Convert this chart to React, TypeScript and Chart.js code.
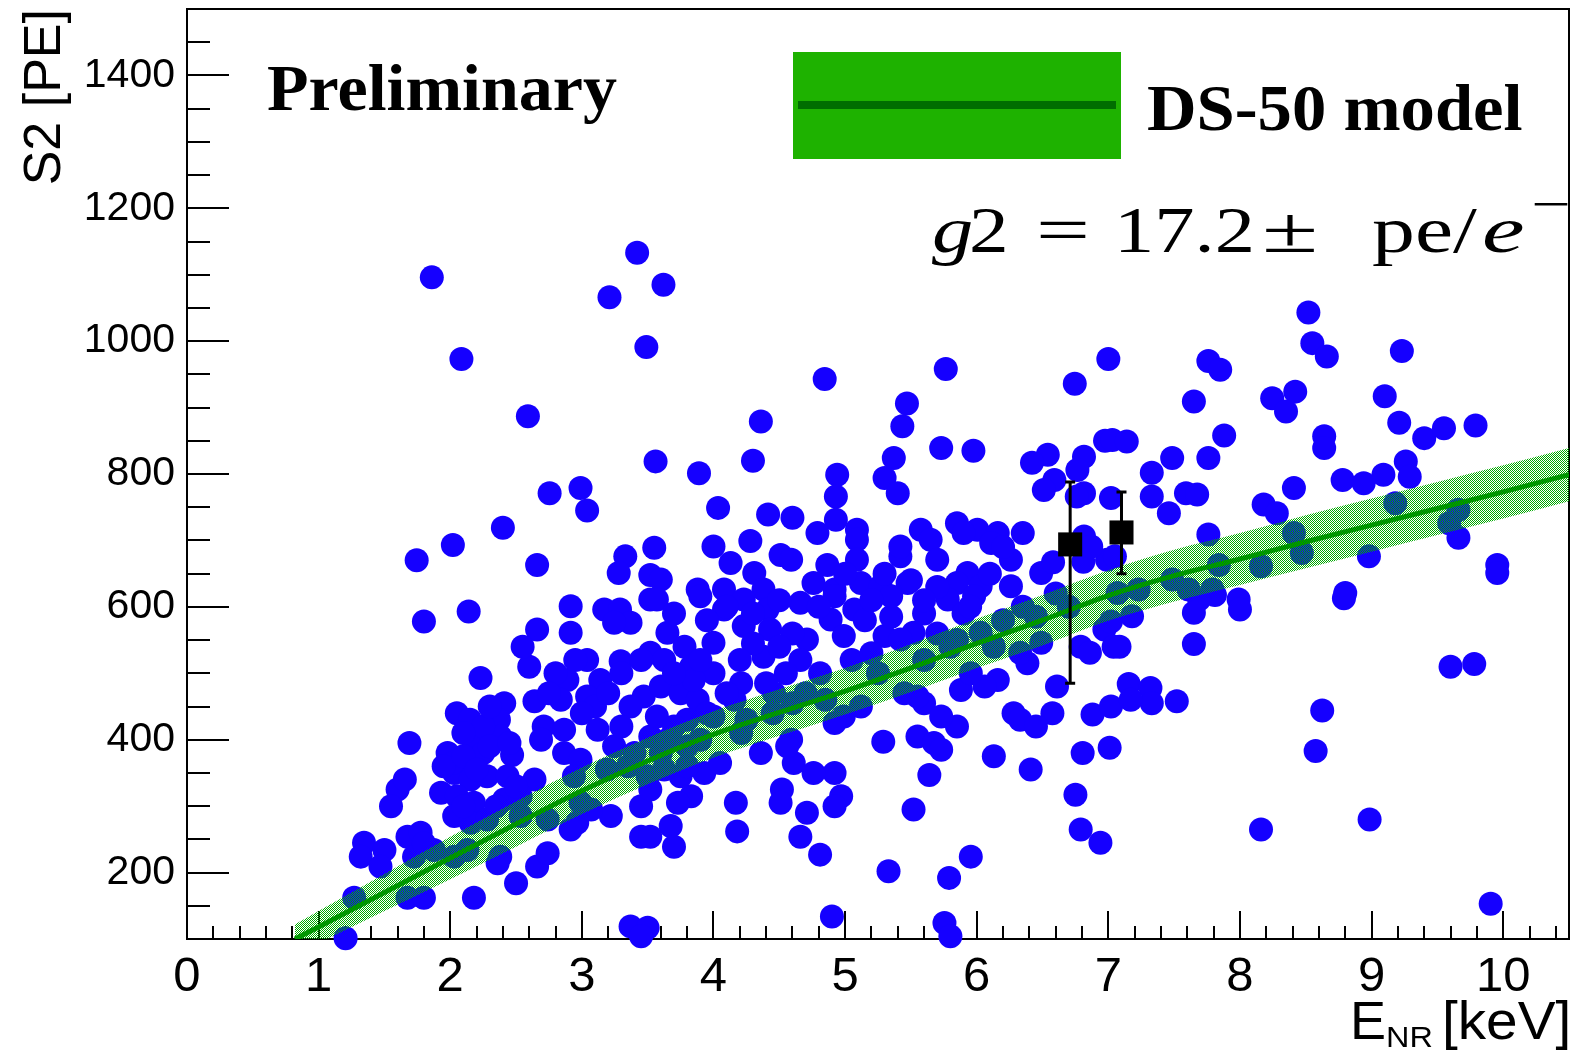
import React, { useEffect, useRef } from 'react';
import { Chart, registerables } from 'chart.js';

Chart.register(...registerables);

// ---------- axis ----------
const X_MIN = 0;
const X_MAX = 10.5;
const Y_MIN = 100;
const Y_MAX = 1500;
const xTickValues = [0, 1, 2, 3, 4, 5, 6, 7, 8, 9, 10];
const yTickValues = [200, 400, 600, 800, 1000, 1200, 1400];
const X_MINOR = 0.2;
const Y_MINOR = 50;

// ---------- data: events (E_NR keV, S2 PE) ----------
const eventX = [
  1.86, 2.085, 3.42, 3.21, 3.62, 3.49, 2.59, 3.56, 2.755, 2.99, 3.04, 2.40, 2.02, 1.745, 2.66, 3.33, 3.28, 3.52, 3.55,
  1.80, 2.14, 2.915, 2.915, 2.66, 3.17, 3.29, 3.37, 3.245, 3.52, 3.52, 2.23, 3.04, 3.295, 2.89, 3.14, 2.64, 2.41, 2.84, 3.04,
  3.47, 3.37, 2.37, 2.71, 2.865, 3.12, 3.52, 1.69, 2.18, 2.38, 2.47, 2.69, 2.865, 2.99, 3.245, 2.03, 2.155, 2.28, 2.435, 2.64,
  2.94, 3.19, 3.50, 1.60, 1.93, 2.05, 2.18, 2.41, 2.535, 2.99, 3.22, 3.45, 1.55, 2.03, 2.155, 2.28, 2.535, 2.74, 2.965, 3.45,
  1.345, 1.32, 1.50, 1.47, 1.675, 1.775, 1.725, 1.875, 2.03, 2.13, 2.38, 2.36, 2.66, 2.74, 2.915, 2.50, 3.07, 1.27, 1.675, 1.80,
  2.18, 1.205, 3.37, 3.50, 3.45,
  1.655, 1.80, 2.05, 2.15, 2.25, 2.30, 2.10, 1.98, 2.02, 2.25, 1.95, 2.10, 2.30, 2.45, 2.20, 2.50, 2.35, 2.10,
  4.845, 5.765, 4.36, 5.47, 5.435, 3.89, 4.30, 5.73, 5.975, 6.745, 7.0, 6.975, 6.54, 6.42, 6.815, 6.765, 6.59, 6.51, 6.815, 7.02,
  5.37, 5.30, 5.40, 4.94, 4.93, 4.035, 4.415, 4.60, 4.93, 4.79, 5.09, 5.575, 5.85, 6.005, 6.16, 6.35, 6.815, 4.00, 4.28, 4.51,
  4.59, 4.13, 4.31, 3.60, 4.865, 5.09, 5.09, 5.42, 5.65, 5.70, 5.93, 6.03, 6.26, 6.26, 6.49, 6.99, 3.88, 4.08, 4.38, 4.76,
  4.92, 5.12, 5.27, 5.475, 5.85, 5.42,
  3.57, 3.90, 4.08, 4.23, 4.41, 4.66, 4.92, 5.07, 5.35, 5.78, 5.98, 3.65, 3.78, 4.00, 4.23, 4.43, 4.71, 4.89, 4.99, 5.30,
  5.52, 3.625, 3.83, 4.00, 4.38, 4.66, 4.81, 4.21, 3.60, 3.75, 3.88, 4.16, 4.46, 3.57, 3.80, 4.00, 4.21, 3.65, 3.80, 4.36,
  4.59, 4.61, 4.92, 4.76, 3.75, 3.625, 3.93, 4.05, 3.52, 3.83, 3.73, 4.17, 4.52, 4.51, 4.97, 4.92, 4.71, 4.66, 4.81, 4.18,
  3.675, 3.70, 3.52, 4.90, 5.29, 5.55, 5.675, 5.73, 5.64, 5.52, 5.33, 5.79, 5.955, 5.755, 5.80, 6.13, 6.41, 6.75, 6.79, 6.94,
  6.805, 7.01, 6.88, 6.575, 6.61, 6.28, 6.33, 6.16, 6.06, 5.85, 5.60, 5.73, 5.88, 5.955, 5.55, 5.42, 6.385, 6.49, 6.79, 6.97,
  7.04, 6.13, 6.03, 4.99, 5.12, 4.92, 4.56,
  5.05, 5.20, 5.15, 5.35, 5.60, 5.70, 5.25, 5.45, 5.60, 5.80, 5.90, 4.45, 4.30, 4.55, 4.60, 4.40, 4.25, 3.70, 3.95, 3.85,
  8.52, 8.55, 8.66, 9.23, 7.76, 7.85, 7.65, 8.245, 8.42, 8.35, 9.10, 9.21, 9.40, 9.55, 9.79, 8.64, 8.64, 7.03, 7.14, 7.88,
  7.485, 7.76, 7.33, 7.33, 7.59, 7.675, 7.46, 8.41, 8.18, 8.28, 8.78, 8.94, 9.09, 9.26, 9.29, 9.18, 9.66, 9.59, 9.66, 7.76,
  8.41, 8.47, 8.16, 7.84, 8.98, 9.955, 9.955, 7.05, 7.485, 7.79, 7.61, 7.23, 8.80, 7.99,
  8.79, 8.0, 7.81, 7.69, 7.18, 7.02, 7.085, 7.65, 7.155, 7.32, 7.33, 7.52, 8.625, 8.575, 9.60, 9.78, 8.16, 8.985, 9.905,
  6.11, 6.81, 6.87, 7.07, 7.65, 6.86, 6.33, 5.85, 7.02, 7.17, 5.90, 6.45, 6.20, 6.45, 6.58, 6.76,
  3.30, 3.40, 3.60, 3.70, 3.90, 3.95, 3.45, 3.70, 3.30, 3.90, 3.35, 3.80,
  4.10, 4.50, 4.30, 4.60, 4.80, 4.20, 4.50, 4.70, 4.85, 4.10,
  5.00, 5.20, 5.50, 5.70, 5.95, 5.30, 5.60,
  6.10, 6.35, 6.60, 6.70, 6.20,
  2.80, 2.95, 3.10, 2.75, 3.00, 3.20, 2.60, 2.55,
];
const eventY = [
  1096, 973, 1133, 1066, 1085, 991, 887, 819, 771, 779, 745, 719, 693, 670, 663, 676, 651, 648, 689,
  578, 593, 601, 561, 566, 596, 596, 576, 576, 611, 531, 493, 520, 518, 490, 490, 458, 455, 460, 465,
  465, 450, 430, 420, 415, 415, 405, 395, 395, 405, 377, 400, 380, 370, 390, 350, 340, 345, 345, 340,
  345, 355, 345, 325, 320, 315, 305, 310, 315, 305, 285, 300, 300, 285, 275, 280, 285, 280, 275, 254,
  245, 224, 234, 209, 254, 260, 224, 234, 224, 234, 224, 214, 209, 229, 265, 184, 295, 162, 162, 162,
  162, 101, 119, 117, 104,
  340, 244, 440, 430, 420, 450, 410, 380, 365, 380, 360, 375, 390, 395, 355, 330, 300, 300,
  943, 958, 879, 906, 872, 801, 820, 839, 835, 936, 973, 850, 829, 817, 826, 806, 791, 776, 771, 764,
  824, 794, 771, 799, 766, 749, 739, 734, 731, 711, 716, 716, 726, 716, 711, 711, 706, 691, 699, 678,
  671, 666, 651, 641, 663, 701, 671, 676, 701, 671, 651, 631, 631, 671, 651, 671, 626, 626, 626, 636,
  626, 636, 631, 636, 636, 691,
  611, 616, 596, 611, 596, 606, 616, 596, 616, 611, 616, 561, 540, 546, 571, 566, 551, 581, 556, 556,
  561, 520, 510, 500, 525, 520, 500, 485, 480, 470, 460, 460, 470, 435, 430, 435, 410, 400, 390, 380,
  400, 365, 350, 350, 345, 355, 350, 365, 325, 315, 305, 305, 325, 305, 315, 300, 290, 254, 227, 262,
  270, 239, 254, 134, 397, 405, 395, 385, 347, 295, 202, 192, 224, 124, 104, 375, 355, 317, 265, 245,
  380, 388, 438, 440, 480, 440, 430, 490, 480, 420, 455, 435, 475, 500, 465, 551, 515, 546, 540, 566,
  540, 540, 561, 435, 450, 425, 390,
  520, 530, 580, 585, 590, 560, 500, 470, 520, 540, 590, 440, 545, 500, 455, 485, 430, 590, 580, 490,
  1043, 997, 977, 985, 970, 957, 909, 914, 924, 894, 917, 877, 854, 869, 873, 857, 839, 851, 849, 858,
  824, 824, 802, 766, 771, 769, 741, 779, 754, 741, 791, 786, 799, 819, 796, 756, 746, 726, 704, 709,
  711, 681, 661, 663, 676, 663, 651, 676, 641, 626, 626, 626, 621, 611,
  613, 596, 618, 611, 586, 578, 540, 544, 484, 478, 455, 458, 444, 383, 510, 514, 265, 280, 153,
  696, 668, 691, 621, 591, 531, 531, 550, 450, 460, 711, 420, 580, 585, 667, 766,
  420, 380, 380, 420, 400, 440, 520, 500, 500, 520, 360, 360,
  600, 610, 590, 560, 600, 520, 540, 470, 460, 470,
  650, 610, 640, 630, 600, 650, 610,
  650, 600, 620, 600, 690,
  500, 520, 450, 470, 440, 470, 510, 540,
];

// ---------- data: DS-50 model curve and band ----------
const modelX = [0.82, 1.0, 1.5, 2.0, 2.5, 3.0, 3.5, 4.0, 4.5, 5.0, 5.5, 6.0, 6.5, 7.0, 7.5, 8.0, 8.5, 9.0, 9.5, 10.0, 10.5];
const modelY = [100, 118, 170, 222, 273, 323, 368, 408, 441, 473, 508, 545, 580, 617, 647, 672, 698, 723, 748, 773, 799];
const modelHalfWidth = [22, 24, 28, 32, 34, 35, 35, 35, 35, 35, 36, 37, 38, 38, 39, 39, 40, 40, 40, 40, 40];

// ---------- data: reference points with error bars ----------
const refX = [6.71, 7.1];
const refY = [694, 712];
const refLow = [485, 650];
const refHigh = [788, 773];

const SANS = '"Liberation Sans", Arial, Helvetica, sans-serif';
const SERIF = '"Liberation Serif", "Times New Roman", serif';

function drawScaledText(ctx: CanvasRenderingContext2D, text: string, x: number, y: number, font: string, sx: number) {
  ctx.save();
  ctx.translate(x, y);
  ctx.scale(sx, 1);
  ctx.font = font;
  ctx.textAlign = 'left';
  ctx.textBaseline = 'alphabetic';
  ctx.fillStyle = '#000';
  ctx.fillText(text, 0, 0);
  ctx.restore();
}

const framePlugin = {
  id: 'rootFrame',
  beforeDatasetsDraw(chart: any) {
    const { ctx, chartArea: a, scales } = chart;
    const xs = scales.x;
    const ys = scales.y;
    ctx.save();
    ctx.strokeStyle = '#000';
    ctx.lineWidth = 2;
    ctx.beginPath();
    const nY = Math.round((Y_MAX - Y_MIN) / Y_MINOR);
    for (let i = 1; i < nY; i++) {
      const v = Y_MIN + i * Y_MINOR;
      const py = Math.round(ys.getPixelForValue(v));
      const major = yTickValues.includes(v);
      ctx.moveTo(a.left, py);
      ctx.lineTo(a.left + (major ? 42 : 23), py);
    }
    const nX = Math.floor((X_MAX - X_MIN) / X_MINOR + 1e-6);
    for (let i = 1; i <= nX; i++) {
      const v = X_MIN + i * X_MINOR;
      const px = Math.round(xs.getPixelForValue(v));
      const major = i % 5 === 0;
      ctx.moveTo(px, a.bottom);
      ctx.lineTo(px, a.bottom - (major ? 28 : 13));
    }
    ctx.stroke();
    ctx.strokeRect(a.left, a.top, a.right - a.left, a.bottom - a.top);
    ctx.restore();
  },
  afterDatasetsDraw(chart: any) {
    const { ctx, scales } = chart;
    const xs = scales.x;
    const ys = scales.y;
    ctx.save();
    ctx.strokeStyle = '#000';
    ctx.lineWidth = 3;
    for (let i = 0; i < refX.length; i++) {
      const px = xs.getPixelForValue(refX[i]);
      const lo = ys.getPixelForValue(refLow[i]);
      const hi = ys.getPixelForValue(refHigh[i]);
      ctx.beginPath();
      ctx.moveTo(px, lo);
      ctx.lineTo(px, hi);
      ctx.moveTo(px - 5, lo);
      ctx.lineTo(px + 5, lo);
      ctx.moveTo(px - 5, hi);
      ctx.lineTo(px + 5, hi);
      ctx.stroke();
    }
    ctx.restore();
  },
  afterDraw(chart: any) {
    const { ctx } = chart;
    ctx.save();
    // Preliminary label
    drawScaledText(ctx, 'Preliminary', 267, 110, `bold 66px ${SERIF}`, 1.03);
    // legend
    ctx.fillStyle = '#1eb200';
    ctx.fillRect(793, 52, 328, 107);
    ctx.fillStyle = '#006e00';
    ctx.fillRect(798, 101, 318, 8);
    drawScaledText(ctx, 'DS-50 model', 1147, 130, `bold 66px ${SERIF}`, 1.04);
    // g2 formula
    const mf = `66px ${SERIF}`;
    const mfi = `italic 66px ${SERIF}`;
    drawScaledText(ctx, 'g', 932, 252, mfi, 1.25);
    drawScaledText(ctx, '2', 969, 252, mf, 1.2);
    drawScaledText(ctx, '=', 1036, 252, mf, 1.45);
    drawScaledText(ctx, '17.2', 1114, 252, mf, 1.22);
    drawScaledText(ctx, '\u00b1', 1262, 252, mf, 1.55);
    drawScaledText(ctx, 'pe/', 1372, 252, mf, 1.3);
    drawScaledText(ctx, 'e', 1482, 252, mfi, 1.45);
    drawScaledText(ctx, '\u2212', 1531, 221, `50px ${SERIF}`, 1.4);
    // x axis title  E_NR [keV]
    drawScaledText(ctx, 'E', 1350, 1039, `53px ${SANS}`, 1.02);
    drawScaledText(ctx, 'NR', 1386, 1047, `30px ${SANS}`, 1.08);
    drawScaledText(ctx, '[keV]', 1442, 1039, `53px ${SANS}`, 1.07);
    ctx.restore();
  },
};

export default function App() {
  const canvasRef = useRef<HTMLCanvasElement | null>(null);

  useEffect(() => {
    const canvas = canvasRef.current;
    if (!canvas) return;
    const ctx = canvas.getContext('2d');
    if (!ctx) return;

    const pc = document.createElement('canvas');
    pc.width = 2;
    pc.height = 2;
    const pctx = pc.getContext('2d')!;
    pctx.fillStyle = '#00aa00';
    pctx.fillRect(0, 0, 1, 1);
    pctx.fillRect(1, 1, 1, 1);
    const pattern = ctx.createPattern(pc, 'repeat');

    const events = eventX.map((x, i) => ({ x, y: eventY[i] }));
    const model = modelX.map((x, i) => ({ x, y: modelY[i] }));
    const bandHi = modelX.map((x, i) => ({ x, y: modelY[i] + modelHalfWidth[i] }));
    const bandLo = modelX.map((x, i) => ({ x, y: modelY[i] - modelHalfWidth[i] }));
    const refs = refX.map((x, i) => ({ x, y: refY[i] }));

    const chart = new Chart(canvas, {
      type: 'scatter',
      data: {
        datasets: [
          {
            type: 'scatter',
            label: 'reference',
            data: refs,
            pointStyle: 'rect',
            pointRadius: 17,
            backgroundColor: '#000',
            borderWidth: 0,
            order: 0,
            clip: false,
          } as any,
          {
            type: 'line',
            label: 'DS-50 model',
            data: model,
            showLine: true,
            borderColor: '#009600',
            borderWidth: 5,
            pointRadius: 0,
            fill: false,
            cubicInterpolationMode: 'monotone',
            order: 1,
          } as any,
          {
            type: 'line',
            label: 'band high',
            data: bandHi,
            showLine: true,
            borderColor: 'rgba(0,0,0,0)',
            borderWidth: 0,
            pointRadius: 0,
            fill: '+1',
            backgroundColor: pattern,
            cubicInterpolationMode: 'monotone',
            order: 2,
          } as any,
          {
            type: 'line',
            label: 'band low',
            data: bandLo,
            showLine: true,
            borderColor: 'rgba(0,0,0,0)',
            borderWidth: 0,
            pointRadius: 0,
            fill: false,
            cubicInterpolationMode: 'monotone',
            order: 2,
          } as any,
          {
            type: 'scatter',
            label: 'events',
            data: events,
            pointStyle: 'circle',
            pointRadius: 12,
            backgroundColor: '#1500ff',
            borderWidth: 0,
            order: 3,
            clip: false,
          } as any,
        ],
      },
      options: {
        responsive: false,
        animation: false,
        devicePixelRatio: 1,
        events: [],
        layout: { autoPadding: false, padding: { top: 9, right: 25, left: 0, bottom: 0 } },
        plugins: {
          legend: { display: false },
          tooltip: { enabled: false },
          title: { display: false },
        },
        scales: {
          x: {
            type: 'linear',
            position: 'bottom',
            min: X_MIN,
            max: X_MAX,
            afterBuildTicks: (s: any) => {
              s.ticks = xTickValues.map((v) => ({ value: v }));
            },
            afterFit: (s: any) => {
              s.height = 111;
              s.paddingLeft = 0;
              s.paddingRight = 0;
              s.paddingTop = 0;
              s.paddingBottom = 0;
            },
            grid: { display: false, drawTicks: false },
            border: { display: false },
            ticks: {
              color: '#000',
              font: { family: SANS, size: 49 },
              padding: 9,
              maxRotation: 0,
              minRotation: 0,
              autoSkip: false,
              callback: (v: any) => String(v),
            },
          },
          y: {
            type: 'linear',
            position: 'left',
            min: Y_MIN,
            max: Y_MAX,
            afterBuildTicks: (s: any) => {
              s.ticks = yTickValues.map((v) => ({ value: v }));
            },
            afterFit: (s: any) => {
              s.width = 187;
              s.paddingLeft = 0;
              s.paddingRight = 0;
              s.paddingTop = 0;
              s.paddingBottom = 0;
            },
            grid: { display: false, drawTicks: false },
            border: { display: false },
            ticks: {
              color: '#000',
              font: { family: SANS, size: 41 },
              padding: 12,
              autoSkip: false,
              callback: (v: any) => String(v),
            },
            title: {
              display: true,
              text: 'S2 [PE]',
              align: 'end',
              color: '#000',
              font: { family: SANS, size: 52 },
              padding: { top: 14, bottom: 0 },
            },
          },
        },
      } as any,
      plugins: [framePlugin],
    });

    return () => {
      chart.destroy();
    };
  }, []);

  return (
    <div style={{ position: 'absolute', left: 0, top: 0, width: 1594, height: 1050, background: '#fff' }}>
      <canvas ref={canvasRef} width={1594} height={1050} style={{ width: 1594, height: 1050, display: 'block' }} />
    </div>
  );
}
